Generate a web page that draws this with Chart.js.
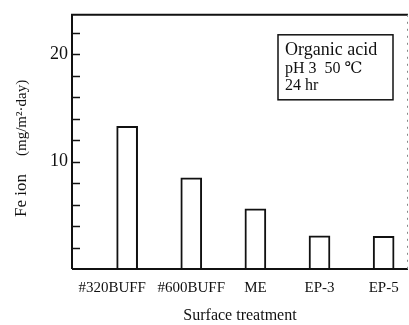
<!DOCTYPE html>
<html>
<head>
<meta charset="utf-8">
<script src="https://cdn.jsdelivr.net/npm/chart.js@4.4.0/dist/chart.umd.min.js"></script>
<style>
  html, body { margin: 0; padding: 0; background: #fff; }
  #wrap { width: 409px; height: 325px; }
</style>
</head>
<body>
<div id="wrap"><canvas id="chart" width="409" height="325"></canvas></div>
<script>
// Data
const categories = ["#320BUFF", "#600BUFF", "ME", "EP-3", "EP-5"];
const feIon = [13.3, 8.5, 5.6, 3.1, 3.05];
const yTickLabels = [10, 20];

const serif = "'Liberation Serif', 'DejaVu Serif', serif";

// Inner tick marks on the left axis + faint right border
const frame = {
  id: "frame",
  afterDraw(chart) {
    const ctx = chart.ctx;
    const area = chart.chartArea;
    const y = chart.scales.y;
    ctx.save();
    ctx.strokeStyle = "#111";
    ctx.lineWidth = 1.5;
    y.ticks.forEach(function (t) {
      if (t.value <= 0) return;
      const py = Math.round(y.getPixelForValue(t.value)) + 0.5;
      ctx.beginPath();
      ctx.moveTo(area.left, py);
      ctx.lineTo(area.left + 8, py);
      ctx.stroke();
    });
    // frame lines
    ctx.lineWidth = 2;
    ctx.beginPath();
    ctx.moveTo(area.left, area.bottom);
    ctx.lineTo(area.left, area.top);
    ctx.lineTo(area.right, area.top);
    ctx.stroke();
    ctx.beginPath();
    ctx.moveTo(area.left, area.bottom);
    ctx.lineTo(area.right, area.bottom);
    ctx.stroke();
    // faint dotted right side
    ctx.strokeStyle = "#888";
    ctx.lineWidth = 1;
    ctx.setLineDash([2, 5]);
    ctx.beginPath();
    ctx.moveTo(area.right - 0.5, area.top);
    ctx.lineTo(area.right - 0.5, area.bottom);
    ctx.stroke();
    ctx.setLineDash([]);

    // condition box
    const bx = area.right - 130, bw = 115, by = area.top + 20, bh = 65;
    ctx.strokeStyle = "#111";
    ctx.lineWidth = 1.5;
    ctx.strokeRect(bx, by, bw, bh);
    ctx.fillStyle = "#111";
    ctx.textBaseline = "alphabetic";
    ctx.textAlign = "left";
    ctx.font = "18px " + serif;
    ctx.fillText("Organic acid", bx + 7, by + 20);
    ctx.font = "16px " + serif;
    ctx.fillText("pH 3  50 \u2103", bx + 7, by + 38);
    ctx.fillText("24 hr", bx + 7, by + 55);

    // y axis title (two sizes)
    ctx.save();
    ctx.translate(22, 0);
    ctx.rotate(-Math.PI / 2);
    ctx.textBaseline = "middle";
    ctx.font = "17px " + serif;
    ctx.fillText("Fe ion", -217, 0);
    ctx.font = "15px " + serif;
    ctx.fillText("(mg/m\u00b2\u00b7day)", -156, 0);
    ctx.restore();
    ctx.restore();
  }
};

new Chart(document.getElementById("chart"), {
  type: "bar",
  data: {
    datasets: [{
      label: "Fe ion",
      data: feIon.map(function (v, i) { return { x: i + 1, y: v }; }),
      backgroundColor: "#fff",
      borderColor: "#111",
      borderWidth: 2,
      borderSkipped: "bottom",
      barThickness: 21
    }]
  },
  options: {
    responsive: false,
    animation: false,
    events: [],
    layout: { padding: { top: 13, right: 1, left: 0, bottom: 0 } },
    plugins: { legend: { display: false }, tooltip: { enabled: false } },
    scales: {
      x: {
        type: "linear",
        offset: false,
        min: 0.14,
        max: 5.38,
        afterBuildTicks: function (scale) {
          scale.ticks = categories.map(function (c, i) { return { value: i + 1 }; });
        },
        afterFit: function (scale) { scale.height = 56; },
        grid: { display: false, drawTicks: false },
        border: { display: false },
        ticks: {
          autoSkip: false,
          maxRotation: 0,
          padding: 10,
          color: "#111",
          font: { family: serif, size: 15 },
          // first label sits a little left of its bar in the original
          callback: function (v) {
            const name = categories[v - 1] || "";
            return v === 1 ? name + "\u2003\u2003" : name;
          }
        },
        title: {
          display: true,
          text: "Surface treatment",
          color: "#111",
          font: { family: serif, size: 16 },
          padding: { top: 14, bottom: 0 }
        }
      },
      y: {
        min: 0,
        max: 23.7,
        afterBuildTicks: function (scale) {
          const t = [];
          for (let v = 0; v <= 22; v += 2) t.push({ value: v });
          scale.ticks = t;
        },
        afterFit: function (scale) { scale.width = 72; },
        grid: { display: false, drawTicks: false },
        border: { display: false },
        ticks: {
          autoSkip: false,
          padding: 4,
          color: "#111",
          font: { family: serif, size: 18 },
          callback: function (v) { return yTickLabels.indexOf(v) >= 0 ? String(v) : ""; }
        }
      }
    }
  },
  plugins: [frame]
});
</script>
</body>
</html>
